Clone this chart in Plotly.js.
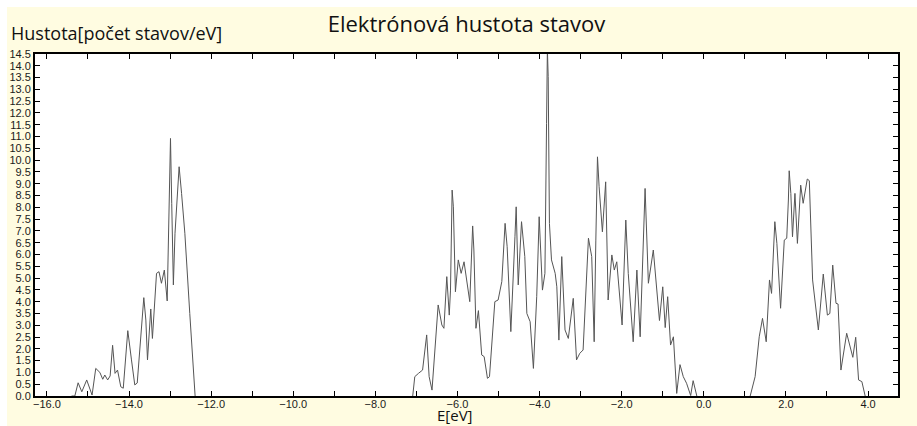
<!DOCTYPE html>
<html>
<head>
<meta charset="utf-8">
<script src="https://cdn.plot.ly/plotly-3.0.1.min.js"></script>
<style>
html,body{margin:0;padding:0;background:#ffffff;}
#chart{position:absolute;left:7px;top:7px;width:910px;height:419px;}
</style>
</head>
<body>
<div id="chart"></div>
<script>
// Energy [eV]; null marks a break between the bands (zero density there)
var energy = [
 -15.40,-15.32,-15.24,-15.15,-15.03,-14.90,-14.81,-14.71,-14.64,-14.59,-14.52,-14.46,-14.40,-14.34,-14.28,-14.20,-14.14,-14.03,-13.94,-13.86,-13.80,-13.64,-13.59,-13.55,-13.47,-13.43,-13.33,-13.27,-13.21,-13.14,-13.07,-13.03,-13.00,-12.99,-12.96,-12.92,-12.88,-12.78,-12.72,-12.64,-12.52,-12.39,
 null,
 -7.09,-7.04,-6.95,-6.85,-6.75,-6.69,-6.62,-6.55,-6.47,-6.38,-6.33,-6.26,-6.20,-6.17,-6.13,-6.10,-6.05,-5.98,-5.91,-5.84,-5.70,-5.63,-5.60,-5.55,-5.49,-5.41,-5.35,-5.27,-5.22,-5.09,-5.01,-4.92,-4.84,-4.79,-4.70,-4.60,-4.57,-4.52,-4.44,-4.36,-4.31,-4.23,-4.15,-4.07,-4.01,-3.93,-3.87,-3.83,-3.81,-3.79,-3.76,-3.71,-3.62,-3.58,-3.53,-3.46,-3.38,-3.30,-3.18,-3.10,-3.02,-2.94,-2.81,-2.73,-2.67,-2.63,-2.59,-2.55,-2.47,-2.39,-2.33,-2.24,-2.18,-2.12,-1.99,-1.90,-1.84,-1.72,-1.63,-1.55,-1.43,-1.35,-1.23,-1.08,-1.00,-0.94,-0.88,-0.81,-0.74,-0.66,-0.58,-0.50,-0.42,-0.32,-0.26,-0.17,
 null,
 1.13,1.25,1.35,1.43,1.52,1.60,1.65,1.73,1.78,1.87,1.96,2.02,2.06,2.08,2.12,2.16,2.22,2.28,2.36,2.42,2.52,2.57,2.65,2.79,2.91,3.01,3.07,3.14,3.22,3.27,3.34,3.48,3.63,3.70,3.77,3.85,3.93
];
// Density of states [states/eV]
var dos = [
 0,0,0.56,0.18,0.68,0.04,1.17,1.00,0.71,0.89,0.68,0.85,2.15,0.96,1.10,0.39,0.33,2.77,1.53,0.47,0.55,4.17,3.22,1.53,3.69,2.44,5.20,5.27,4.78,5.34,4.03,7.04,10.08,10.92,8.17,4.71,6.90,9.72,8.59,6.90,3.50,0,
 null,
 0,0.82,0.96,1.10,2.59,0.82,0.25,2.09,3.86,3.01,2.87,5.06,3.43,4.49,8.73,8.02,4.42,5.77,5.20,5.69,4.00,7.21,6.19,2.87,3.62,1.74,1.67,0.75,0.82,4.00,4.07,4.85,7.32,6.33,2.73,6.75,8.02,4.71,7.39,5.91,3.50,3.15,1.17,4.21,7.60,4.49,5.20,11.56,14.70,13.54,7.32,5.77,5.20,4.63,2.37,5.91,2.80,2.44,4.14,1.53,1.81,1.95,6.69,5.91,2.30,6.61,10.14,8.87,6.96,9.08,4.07,5.98,5.34,5.69,3.01,7.46,5.20,2.30,5.34,2.51,8.80,4.78,6.19,3.20,4.63,2.90,4.21,2.16,2.51,0.11,1.33,0.82,0.54,0.02,0.65,0,
 null,
 0,0.82,2.51,3.29,2.30,4.92,4.35,7.39,6.47,3.72,6.61,6.69,8.31,9.55,8.59,6.75,8.59,6.47,8.94,8.17,9.20,9.13,4.92,2.80,5.17,3.43,3.50,5.55,3.93,3.90,1.10,2.66,1.64,2.49,0.68,0.61,0
];
var chartTitle = "Elektrónová hustota stavov";
var yLabel = "Hustota[počet stavov/eV]";
var xLabel = "E[eV]";

var cream = "#fffce1";
var tickFont = {family: "Liberation Sans, Arial, sans-serif", size: 11, color: "#1a1a1a"};
var textFont = "Open Sans, Noto Sans, sans-serif";

var trace = {
  x: energy, y: dos, type: "scatter", mode: "lines",
  connectgaps: false,
  line: {color: "#555555", width: 1},
  hoverinfo: "skip"
};

var layout = {
  width: 910, height: 419,
  paper_bgcolor: cream, plot_bgcolor: "#ffffff",
  margin: {l: 28, r: 19, t: 47, b: 30},
  showlegend: false,
  title: {text: chartTitle, x: 0.5, xref: "paper", y: 1 - 17/419, yref: "container", yanchor: "middle",
          font: {family: textFont, size: 22, color: "#111111"}},
  xaxis: {
    range: [-16.29, 4.73], tick0: -16, dtick: 2, tickformat: ".1f",
    ticks: "inside", ticklen: 5, tickwidth: 1, tickcolor: "#000",
    ticklabelstandoff: -3,
    minor: {dtick: 1, tick0: -16, ticks: "inside", ticklen: 5, tickwidth: 1, tickcolor: "#000", showgrid: false},
    showline: true, linecolor: "#000", linewidth: 2, mirror: "allticks",
    showgrid: false, zeroline: false, tickfont: tickFont, fixedrange: true
  },
  yaxis: {
    range: [0, 14.5], tick0: 0, dtick: 0.5, tickformat: ".1f",
    ticks: "inside", ticklen: 5, tickwidth: 1, tickcolor: "#000",
    showline: true, linecolor: "#000", linewidth: 2, mirror: "allticks",
    showgrid: false, zeroline: false, tickfont: tickFont, fixedrange: true
  },
  annotations: [
    {text: yLabel, xref: "paper", yref: "paper", x: (9 - 35) / 863, y: 1 + (54 - 33) / 342,
     xanchor: "left", yanchor: "middle", showarrow: false,
     font: {family: textFont, size: 18, color: "#111111"}},
    {text: xLabel, xref: "paper", yref: "paper", x: (455 - 35) / 863, y: -(415 - 396) / 342,
     xanchor: "center", yanchor: "middle", showarrow: false, borderpad: 0,
     font: {family: textFont, size: 15, color: "#111111"}}
  ]
};

Plotly.newPlot("chart", [trace], layout, {displayModeBar: false, staticPlot: true});
</script>
</body>
</html>
